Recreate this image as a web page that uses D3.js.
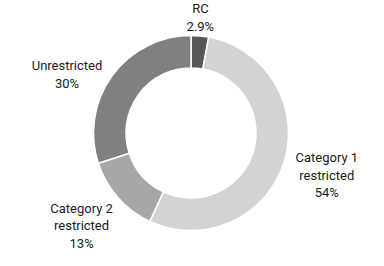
<!DOCTYPE html>
<html>
<head>
<meta charset="utf-8">
<script src="https://cdnjs.cloudflare.com/ajax/libs/d3/7.8.5/d3.min.js"></script>
<style>
  html, body { margin: 0; padding: 0; background: #fff; }
  svg { display: block; }
  text { font-family: Roboto, "Noto Sans", sans-serif; font-size: 13px; fill: #1a1a1a; }
</style>
</head>
<body>
<div id="chart"></div>
<script>
// slices, clockwise from 12 o'clock
var categories = ["RC", "Category 1 restricted", "Category 2 restricted", "Unrestricted"];
var shares = [2.9, 54, 13, 30];
var shareLabels = ["2.9%", "54%", "13%", "30%"];
var labelLines = [["RC"], ["Category 1", "restricted"], ["Category 2", "restricted"], ["Unrestricted"]];
var colors = ["#575757", "#d3d3d3", "#a7a7a7", "#808080"];

var w = 384;
var h = 266;
var cx = 191, cy = 133;
var outerR = 97.5, innerR = 65;
var lineH = 17.5;
var capH = 9.2;

// small hand tweaks so the labels sit where the original has them
var nudge = [[-1.5, 3], [5.5, 3.5], [-7, 8], [-10, 11]];

var svg = d3.select("#chart")
  .append("svg")
  .attr("width", w)
  .attr("height", h);

var g = svg.append("g")
  .attr("transform", "translate(" + cx + "," + cy + ")");

var pie = d3.pie()
  .sort(null)
  .value(function(d) { return d; });

var arcs = pie(shares);

var arc = d3.arc()
  .innerRadius(innerR)
  .outerRadius(outerR);

g.selectAll("path")
  .data(arcs)
  .enter()
  .append("path")
  .attr("d", arc)
  .style("fill", function(d, i) { return colors[i]; })
  .style("stroke", "#fff")
  .style("stroke-width", 1.5);

var labelArc = d3.arc()
  .innerRadius(outerR + 8)
  .outerRadius(outerR + 8);

var labels = g.selectAll("text")
  .data(arcs)
  .enter()
  .append("text")
  .attr("text-anchor", "middle")
  .each(function(d, i) {
    var lines = labelLines[i].concat([shareLabels[i]]);
    var p = labelArc.centroid(d);
    var mid = (d.startAngle + d.endAngle) / 2;
    var bw = 0;
    var t = d3.select(this);
    lines.forEach(function(s, k) {
      t.append("tspan")
        .attr("x", 0)
        .attr("dy", k === 0 ? 0 : lineH)
        .text(s);
    });
    bw = this.getBBox().width;
    var bh = capH + (lines.length - 1) * lineH;
    var x = p[0] + Math.sin(mid) * bw / 2 + nudge[i][0];
    var y = p[1] - Math.cos(mid) * bh / 2 + nudge[i][1];
    var first = y - bh / 2 + capH;
    t.attr("transform", "translate(" + x + "," + first + ")");
  });
</script>
</body>
</html>
